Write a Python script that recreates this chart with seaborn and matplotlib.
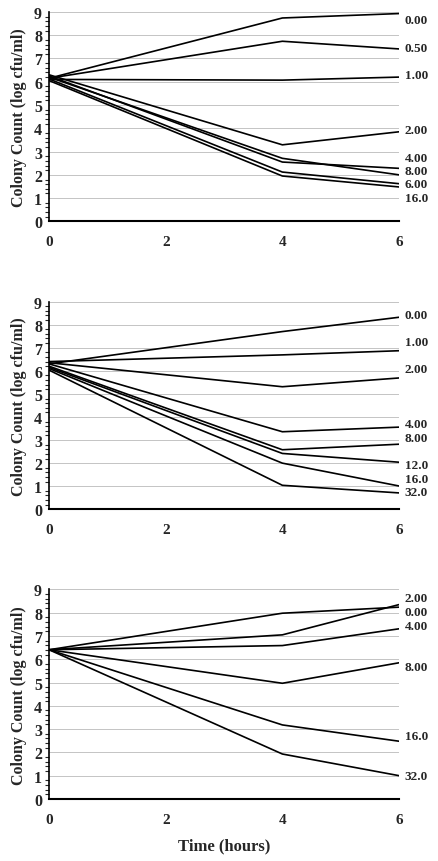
import numpy as np
import pandas as pd
import seaborn as sns
import matplotlib.pyplot as plt
from matplotlib.ticker import MultipleLocator

sns.set_style("white")
plt.rcParams['font.family'] = ['Liberation Serif', 'DejaVu Serif']
plt.rcParams['font.weight'] = 'bold'

times = [0, 4, 6]

# panel 1
conc_a = ["0.00", "0.50", "1.00", "2.00", "4.00", "8.00", "6.00", "16.0"]
vals_a = [
    [6.15, 8.74, 8.93],
    [6.15, 7.74, 7.41],
    [6.10, 6.07, 6.20],
    [6.30, 3.29, 3.85],
    [6.25, 2.55, 2.28],
    [6.20, 2.71, 2.00],
    [6.12, 2.12, 1.62],
    [6.05, 1.95, 1.48],
]
label_y_a = [8.66, 7.45, 6.27, 3.93, 2.74, 2.15, 1.59, 1.00]

# panel 2
conc_b = ["0.00", "1.00", "2.00", "4.00", "8.00", "12.0", "16.0", "32.0"]
vals_b = [
    [6.30, 7.70, 8.32],
    [6.40, 6.69, 6.87],
    [6.35, 5.31, 5.69],
    [6.30, 3.36, 3.56],
    [6.20, 2.58, 2.82],
    [6.15, 2.42, 2.04],
    [6.10, 2.00, 1.01],
    [6.03, 1.04, 0.71],
]
label_y_b = [8.42, 7.24, 6.08, 3.68, 3.11, 1.92, 1.33, 0.75]

# panel 3
conc_c = ["2.00", "0.00", "4.00", "8.00", "16.0", "32.0"]
vals_c = [
    [6.41, 7.98, 8.24],
    [6.41, 7.05, 8.35],
    [6.41, 6.59, 7.31],
    [6.41, 4.97, 5.85],
    [6.41, 3.18, 2.48],
    [6.41, 1.93, 1.00],
]
label_y_c = [8.63, 8.05, 7.45, 5.66, 2.72, 0.97]

panels = [
    (conc_a, vals_a, label_y_a),
    (conc_b, vals_b, label_y_b),
    (conc_c, vals_c, label_y_c),
]

fig = plt.figure(figsize=(4.38, 8.62), dpi=100)
boxes = [
    [0.112, 0.742, 0.799, 0.243],
    [0.112, 0.408, 0.799, 0.241],
    [0.112, 0.072, 0.799, 0.243],
]

for i, (conc, vals, ly) in enumerate(panels):
    ax = fig.add_axes(boxes[i])
    for c, v in zip(conc, vals):
        df = pd.DataFrame({"time": times, "count": v})
        sns.lineplot(data=df, x="time", y="count", color="black", lw=1.2, ax=ax)
    for c, y in zip(conc, ly):
        ax.text(6.1, y, c, fontsize=9.5, fontweight='bold', va='center', ha='left',
                clip_on=False)
    ax.set_xlim(0, 6)
    ax.set_ylim(0, 9)
    ax.set_xticks([0, 2, 4, 6])
    ax.set_yticks(range(10))
    ax.yaxis.set_minor_locator(MultipleLocator(0.2))
    for yy in range(1, 10):
        ax.axhline(yy, color='#c4c4c4', lw=0.7, zorder=0)
    ax.tick_params(axis='x', direction='in', length=3, width=1, labelsize=11, pad=10)
    ax.tick_params(axis='y', which='major', direction='inout', length=6, width=1,
                   labelsize=11.5, pad=2)
    ax.tick_params(axis='y', which='minor', direction='out', length=3, width=0.8,
                   left=True)
    for lab in ax.get_xticklabels() + ax.get_yticklabels():
        lab.set_fontweight('bold')
    sns.despine(ax=ax)
    ax.spines['left'].set_linewidth(1.2)
    ax.spines['bottom'].set_linewidth(1.5)
    ax.spines['left'].set_color('black')
    ax.spines['bottom'].set_color('black')
    ax.set_ylabel("Colony Count (log cfu/ml)", fontsize=11.5, fontweight='bold',
                  labelpad=5)
    if i == 2:
        ax.set_xlabel("Time (hours)", fontsize=12, fontweight='bold', labelpad=8)
    else:
        ax.set_xlabel("")

fig.savefig("out.png", dpi=100)
